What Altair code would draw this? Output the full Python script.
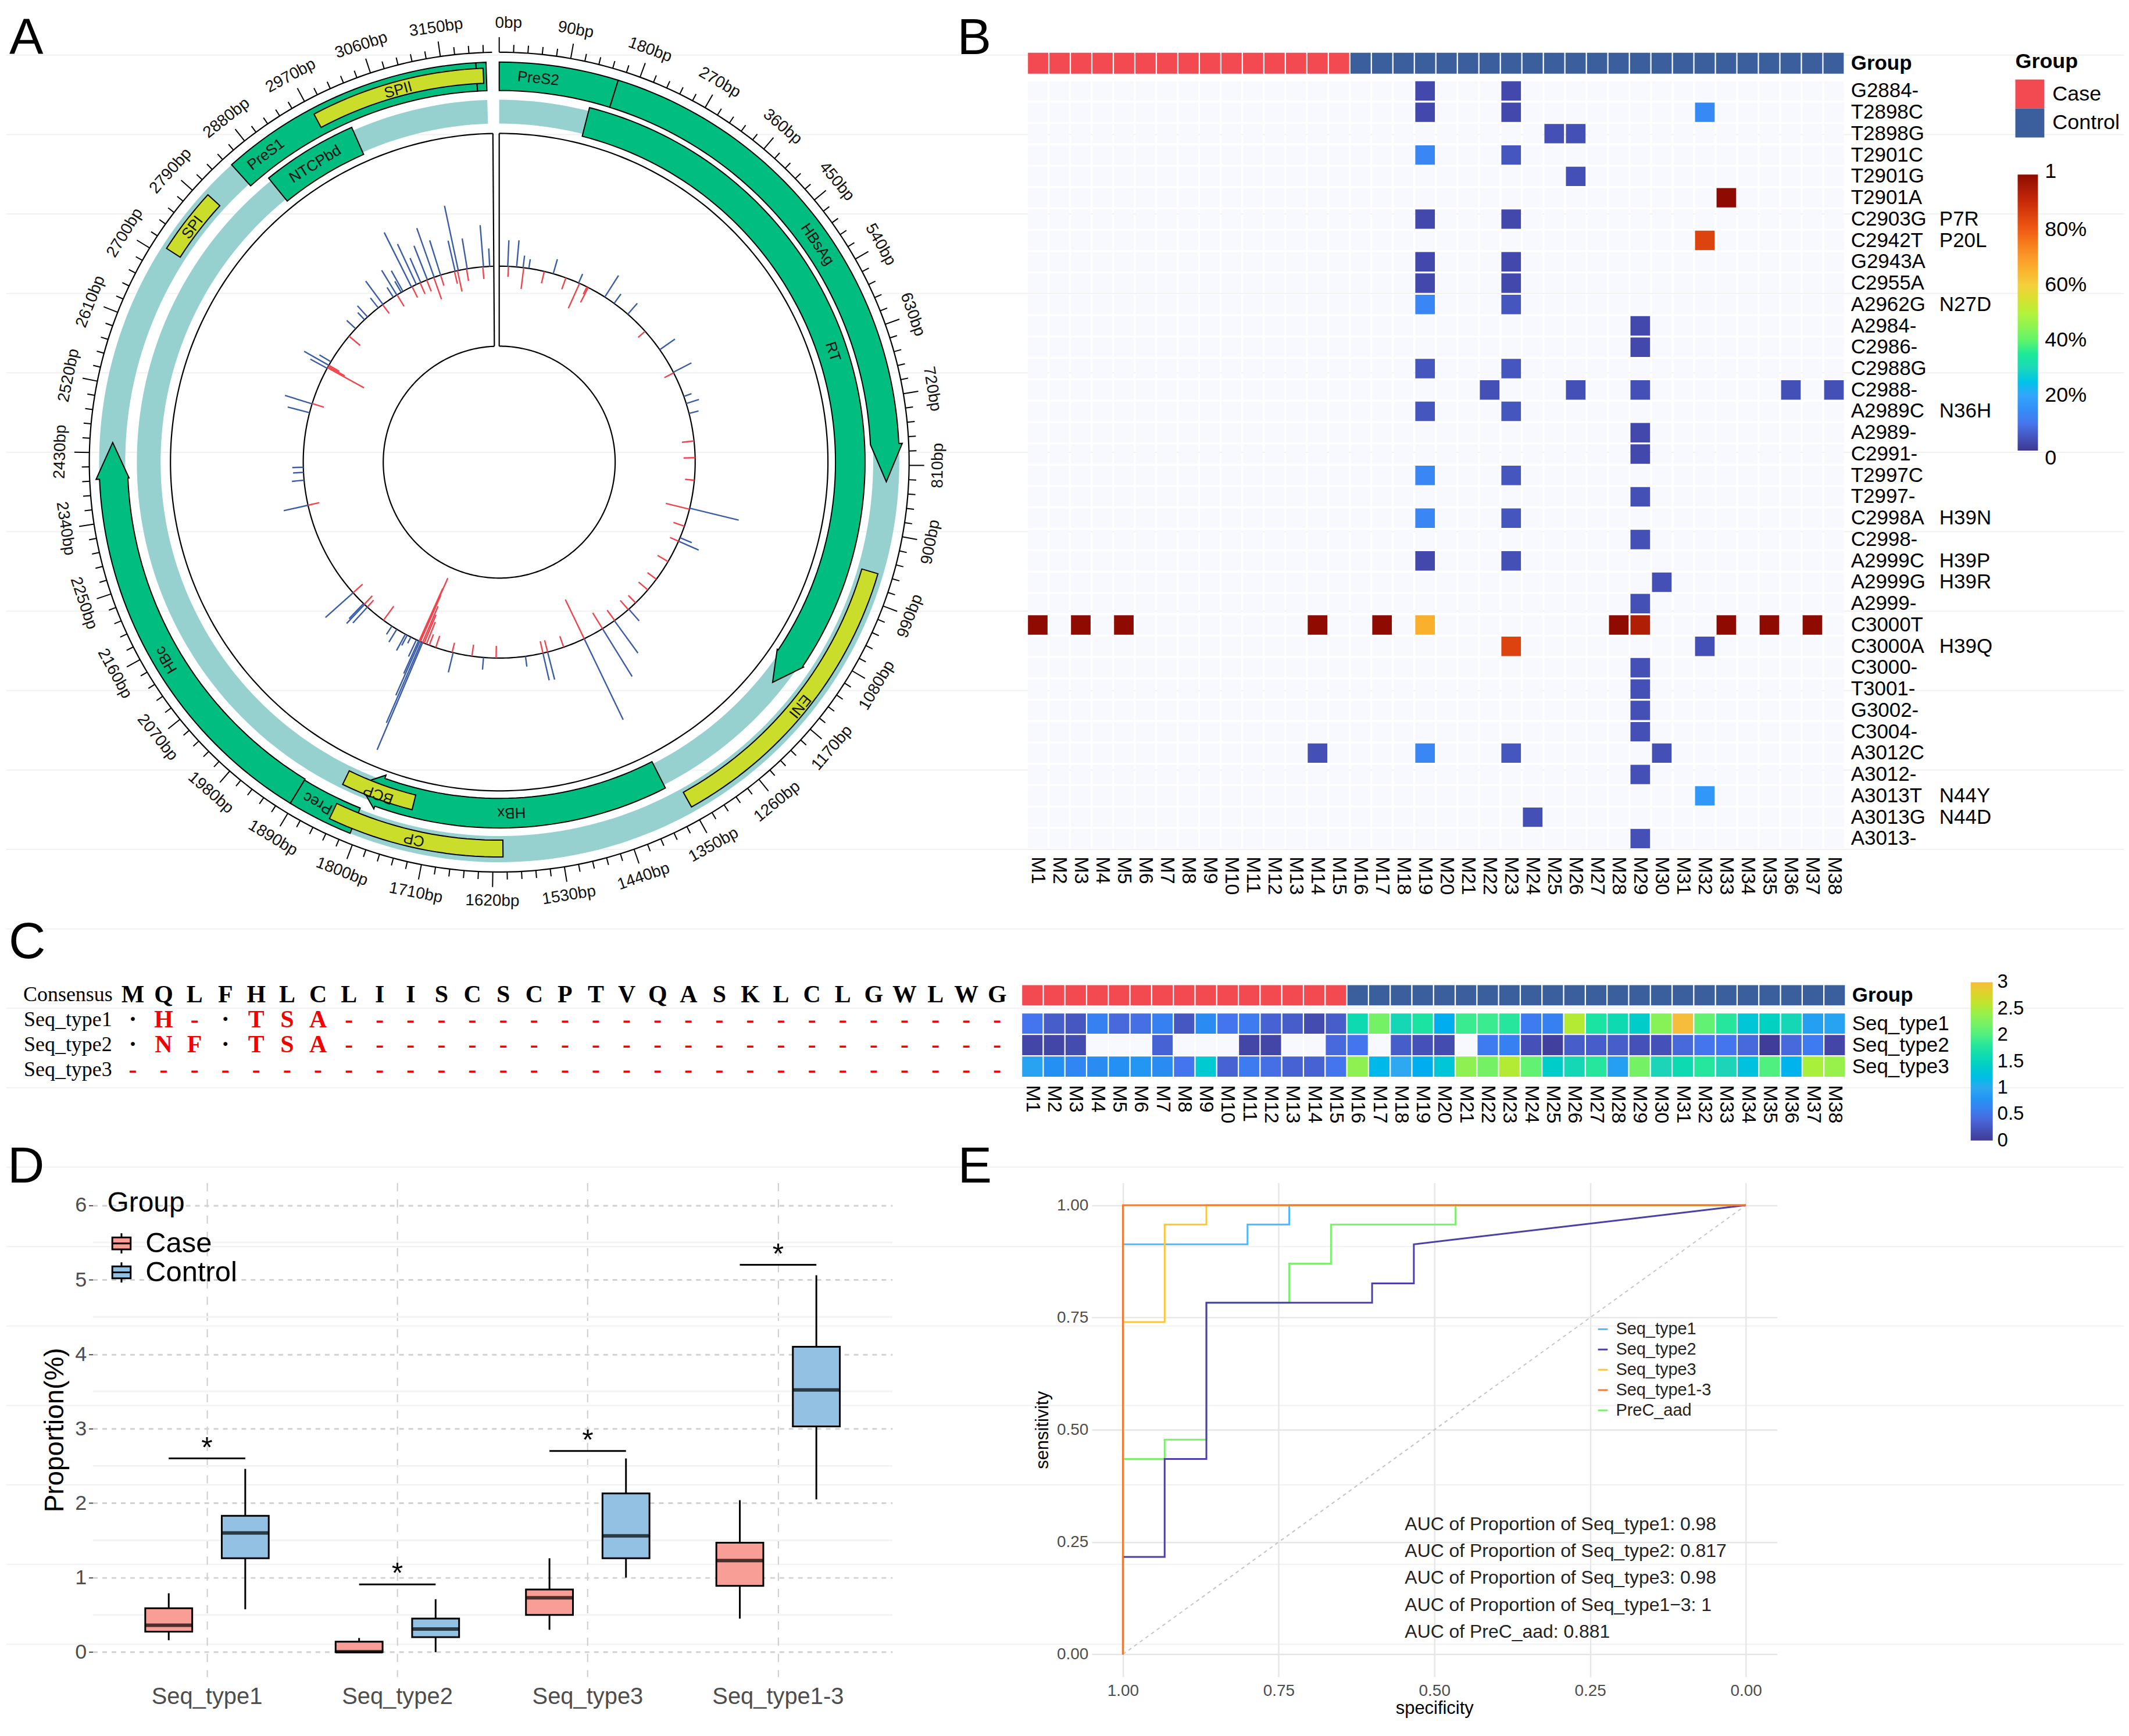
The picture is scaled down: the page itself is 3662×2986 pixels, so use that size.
import math
import altair as alt
import pandas as pd

alt.data_transformers.disable_max_rows()

SANS = "Liberation Sans"
SERIF = "Liberation Serif"
GENOME = 3215
GREEN, TEAL, YELLOW = "#02bd80", "#96d1d0", "#cbdd2b"
BLUE, RED = "#3a5ca6", "#f0444c"

# ---------- panel A values
tick_bp = list(range(0, 3207, 18))
label_bp = list(range(0, 3151, 90))
teal_rings = [(0, 3207, 645, 690), (0, 3207, 584, 625)]
# name, start, end, inner, outer, tip, head inner, head outer
green_genes = [
    ("a", 0, 155, 641, 690, None, None, None),
    ("b", 155, 782, 641, 690, 832, 641, 696),
    ("c", 2848, 3194, 641, 690, None, None, None),
    ("d", 3194, 3207, 641, 690, None, None, None),
    ("e", 1808, 1894, 643, 690, None, None, None),
    ("f", 1894, 2396, 641, 690, 2444, 639, 696),
    ("g", 128, 1110, 580, 631, 1154, 578, 633),
    ("h", 2874, 3011, 580, 631, None, None, None),
    ("i", 1370, 1790, 580, 631, 1822, 574, 636),
]
yellow_genes = [
    ("j", 2711, 2799, 654, 682),
    ("k", 2973, 3203, 654, 680),
    ("l", 953, 1351, 652, 681),
    ("m", 1607, 1840, 652, 681),
    ("n", 1738, 1844, 592, 618),
]
gene_names = ["PreS2", "HBsAg", "RT", "PreS1", "NTCPbd", "SPII", "SPI", "HBc", "Prec", "CP", "BCP", "HBx", "ENI"]
gene_name_bp = [52, 498, 642, 2891, 2940, 3088, 2753, 2143, 1863, 1726, 1791, 1594, 1156]
gene_name_r = [665, 665, 606, 666, 604, 665, 666, 668, 666, 667, 610, 605, 668]

blue_deg = [347.95, 347, 350.6, 355.4, 357.2, 2.5, 5.1, 7, 8.7, 16, 23.9, 32.6, 35.9, 41, 55, 62.7, 70.4, 72.6, 75.6,
            103.6, 112.7, 113.8, 138.6, 144, 148.2, 154.3, 165.7, 167.1, 172.3, 184.6, 193.6, 203, 203.4, 203.9, 204.3,
            205, 206.8, 208.6, 208, 211.5, 213.2, 222.3, 223.4, 223.8, 228.2, 257.3, 264.7, 267, 268.5, 284.6, 287.3,
            298.6, 299.6, 300.8, 312.9, 317.8, 316.6, 321.9, 323.6, 328.5, 327.3, 330.6, 330, 333.4, 335, 336.4, 338.5,
            340.6, 342.6]
blue_tip = [452, 392, 391, 410, 369, 383, 384, 359, 354, 364, 355, 382, 358, 363, 370, 373, 352, 361, 355,
            425, 360, 376, 365, 407, 435, 493, 387, 386, 356, 359, 373, 539, 490, 440, 400,
            370, 350, 370, 358, 364, 355, 375, 383, 374, 402, 381, 359, 356, 357, 377, 387,
            371, 387, 361, 359, 364, 355, 360, 388, 388, 358, 379, 360, 443, 415, 384, 401,
            428, 401]
red_deg = [355.2, 2.7, 7.2, 13.3, 19.9, 24.2, 27, 26.6, 48.1, 62.9, 83.8, 88.7, 95.3, 103.9, 109.1, 113.8, 120.5,
           126.7, 130.7, 135.9, 138.8, 143.9, 148.2, 154.3, 160.8, 167.1, 165.7, 180.9, 188, 193.9, 198.9, 200.9,
           203.9, 204.1, 201.8, 203.7, 203, 202.5, 216.2, 222.3, 223.5, 228.2, 257.3, 287.4, 298.8, 299.6, 299.2, 310,
           328.6, 323.5, 333.6, 336.2, 338.3, 340.5, 342.6, 347.7, 350.4, 346.8]
red_tip = [317, 320, 301, 317, 317, 291, 309, 324, 322, 320, 317, 318, 322, 296, 318, 322, 317,
           319, 317, 320, 317, 316, 306, 263, 318, 317, 317, 317, 318, 321, 317, 318,
           219, 239, 297, 251, 270, 285, 308, 322, 318, 316, 318, 317, 266, 317, 305, 313,
           315, 319, 317, 317, 317, 298, 319, 301, 317, 316]

# ---------- panel B values
samples = [f"M{i}" for i in range(1, 39)]
groups = ["Case"] * 15 + ["Control"] * 23
mutations = ["G2884-", "T2898C", "T2898G", "T2901C", "T2901G", "T2901A", "C2903G", "C2942T", "G2943A", "C2955A",
             "A2962G", "A2984-", "C2986-", "C2988G", "C2988-", "A2989C", "A2989-", "C2991-", "T2997C", "T2997-",
             "C2998A", "C2998-", "A2999C", "A2999G", "A2999-", "C3000T", "C3000A", "C3000-", "T3001-", "G3002-",
             "C3004-", "A3012C", "A3012-", "A3013T", "A3013G", "A3013-"]
mut_cells = {
    "G2884-": {19: .03, 23: .03}, "T2898C": {19: .03, 23: .03, 32: .14}, "T2898G": {25: .04, 26: .04},
    "T2901C": {19: .13, 23: .05}, "T2901G": {26: .04}, "T2901A": {33: 1.0}, "C2903G": {19: .03, 23: .03},
    "C2942T": {32: .85}, "G2943A": {19: .03, 23: .03}, "C2955A": {19: .03, 23: .03},
    "A2962G": {19: .13, 23: .05}, "A2984-": {29: .03}, "C2986-": {29: .03}, "C2988G": {19: .05, 23: .05},
    "C2988-": {22: .04, 26: .04, 29: .04, 36: .04, 38: .04}, "A2989C": {19: .05, 23: .05}, "A2989-": {29: .03},
    "C2991-": {29: .03}, "T2997C": {19: .13, 23: .05}, "T2997-": {29: .04}, "C2998A": {19: .13, 23: .05},
    "C2998-": {29: .04}, "A2999C": {19: .03, 23: .04}, "A2999G": {30: .04}, "A2999-": {29: .04},
    "C3000T": {1: 1, 3: 1, 5: 1, 14: 1, 17: 1, 19: .66, 28: 1, 29: .94, 33: 1, 35: 1, 37: 1},
    "C3000A": {23: .85, 32: .04}, "C3000-": {29: .04}, "T3001-": {29: .04}, "G3002-": {29: .04}, "C3004-": {29: .04},
    "A3012C": {14: .04, 19: .13, 23: .05, 30: .04}, "A3012-": {29: .04}, "A3013T": {32: .17}, "A3013G": {24: .04},
    "A3013-": {29: .04},
}
aa_change = {"C2903G": "P7R", "C2942T": "P20L", "A2962G": "N27D", "A2989C": "N36H", "C2998A": "H39N",
             "A2999C": "H39P", "A2999G": "H39R", "C3000A": "H39Q", "A3013T": "N44Y", "A3013G": "N44D"}
pct_domain = [0, .1, .2, .3, .4, .5, .6, .7, .8, .9, 1]
pct_range = ["#3d3791", "#4577ee", "#33a5fc", "#1bd9b8", "#5ff56a", "#b5f23a", "#f4cf3c", "#fb9a2a", "#f05a14",
             "#c92a08", "#8f0b02"]

# ---------- panel C values
consensus = list("MQLFHLCLIISCSCPTVQASKLCLGWLWG")
seq1_row = list("·H-·TSA") + ["-"] * 22
seq2_row = list("·NF·TSA") + ["-"] * 22
seq3_row = ["-"] * 29
seq_names = ["Seq_type1", "Seq_type2", "Seq_type3"]
seq1_vals = [.5, .3, .25, .6, .4, .45, .6, .25, .7, .5, .55, .35, .3, .15, .3, 1.6, 2.2, 1.55, 1.75, 1.05, 1.9, 1.9,
             1.8, .55, .6, 2.55, 1.75, 1.6, 1.4, 2.3, 3, 2.1, 1.8, 1.3, 1.45, 1.55, .9, .95]
seq2_vals = [.1, .1, .15, None, None, None, .35, None, None, None, .1, .1, None, None, .4, .5, None, .3, .2, .15, None,
             .55, .6, .2, .05, .3, .3, .3, .2, .2, .4, .5, .5, .4, .02, .4, .55, .1]
seq3_vals = [.95, .75, .65, .7, .75, .8, .7, .5, 1.35, .35, .55, .45, .35, .35, .5, 2.35, 1.15, 1.0, 1.05, 1.3, 2.35,
             2.2, 2.55, 2.1, 1.4, 1.55, 1.8, .9, 2.2, 1.5, 1.6, 1.8, 1.5, 1.25, 2.0, 1.1, 2.5, 2.4]
seq_domain = [0, .5, 1, 1.5, 2, 2.5, 3]
seq_range = ["#3f3b95", "#4575ee", "#2ea8f0", "#1dd4b8", "#50f080", "#a8f03a", "#f6bd3c"]

# ---------- panel D values
box_cats = ["Seq_type1", "Seq_type2", "Seq_type3", "Seq_type1-3"]
box_case = [(.16, .275, .36, .59, .79), (0, 0, .005, .14, .19), (.3, .5, .73, .84, 1.26), (.45, .89, 1.23, 1.47, 2.04)]
box_ctrl = [(.575, 1.26, 1.6, 1.83, 2.46), (0, .2, .31, .45, .71), (1.0, 1.26, 1.56, 2.13, 2.6), (2.05, 3.03, 3.52, 4.1, 5.06)]
sig_y = [2.6, .91, 2.7, 5.2]

# ---------- panel E values
roc = {
    "Seq_type1": ([1, 1, .8, .8, .733, .733, 0], [0, .913, .913, .957, .957, 1, 1]),
    "Seq_type2": ([1, 1, .933, .933, .866, .866, .6, .6, .533, .533, 0],
                  [0, .217, .217, .435, .435, .783, .783, .826, .826, .913, 1]),
    "Seq_type3": ([1, 1, .933, .933, .866, .866, 0], [0, .74, .74, .957, .957, 1, 1]),
    "PreC_aad": ([1, 1, .933, .933, .866, .866, .733, .733, .666, .666, .466, .466, 0],
                 [0, .435, .435, .478, .478, .783, .783, .87, .87, .957, .957, 1, 1]),
    "Seq_type1-3": ([1, 1, 0], [0, 1, 1]),
}
roc_names = ["Seq_type1", "Seq_type2", "Seq_type3", "Seq_type1-3", "PreC_aad"]
roc_colors = ["#4db8ff", "#4b3fa8", "#ffc533", "#f47a30", "#7bf06b"]
auc_lines = ["AUC of Proportion of Seq_type1: 0.98", "AUC of Proportion of Seq_type2: 0.817",
             "AUC of Proportion of Seq_type3: 0.98", "AUC of Proportion of Seq_type1−3: 1", "AUC of PreC_aad: 0.881"]
auc_sens = [.29, .23, .17, .11, .05]

# ---------- page annotations
letters = ["A", "B", "C", "D", "E"]
letter_x = [13, 1648, 12, 10, 1649]
letter_y = [87, 87, 1646, 2034, 2034]
faint_y = [89, 226, 363, 500, 637, 774, 911, 1048, 1185, 1322, 1459, 1596, 1733, 1870, 2007, 2144, 2281, 2418, 2555,
           2692, 2830]

CX, CY = 858, 791
A_W, A_H = 1762, 1685
sx = alt.Scale(domain=[8 - CX, 8 - CX + A_W], nice=False, zero=False)
sy = alt.Scale(domain=[CY - 8 - A_H, CY - 8], nice=False, zero=False)
X = alt.X("x:Q", axis=None, scale=sx)
Y = alt.Y("y:Q", axis=None, scale=sy)


def deg(bp):
    return bp * 359 / GENOME


def polar(theta, r):
    t = math.radians(theta)
    return r * math.sin(t), r * math.cos(t)


def band(name, b0, b1, r0, r1, tip=None, hr0=None, hr1=None):
    n = max(2, int(abs(b1 - b0) / 12))
    b = [b0 + (b1 - b0) * i / n for i in range(n + 1)]
    pts = [(v, r1) for v in b]
    if tip is not None:
        pts += [(b1, hr1), (tip, (hr0 + hr1) / 2), (b1, hr0)]
    pts += [(v, r0) for v in reversed(b)]
    return [dict(id=name, o=i, x=polar(deg(p[0]), p[1])[0], y=polar(deg(p[0]), p[1])[1]) for i, p in enumerate(pts)]


def arc(name, t0, t1, r):
    n = 360
    return [dict(id=name, o=i, x=polar(t0 + (t1 - t0) * i / n, r)[0], y=polar(t0 + (t1 - t0) * i / n, r)[1])
            for i in range(n + 1)]


def poly_layer(rows, fill, stroke_width):
    return alt.Chart(pd.DataFrame(rows)).mark_line(interpolate="linear-closed", fill=fill, stroke="black",
                                                   strokeWidth=stroke_width, strokeOpacity=1 if stroke_width else 0
                                                   ).encode(X, Y, detail="id:N", order="o:Q")


def rule_layer(rows, color, width):
    return alt.Chart(pd.DataFrame(rows)).mark_rule(color=color, strokeWidth=width).encode(
        X, Y, x2="x2:Q", y2="y2:Q")


def seg(t0, r0, t1, r1):
    a, b = polar(t0, r0), polar(t1, r1)
    return dict(x=a[0], y=a[1], x2=b[0], y2=b[1])


def spacer(w, h):
    return alt.Chart(pd.DataFrame({"a": [0]})).mark_point(opacity=0, size=1).encode(
        x=alt.value(w / 2), y=alt.value(h / 2)).properties(width=w, height=h)


def bar_end_label(text, px, py, size):
    # the two end labels of a colour bar, centred on the bar's ends as in the reference
    return alt.Chart(pd.DataFrame({"a": [0]})).mark_text(text=text, font=SANS, fontSize=size, color="black",
                                                         align="left", baseline="middle").encode(
        x=alt.value(px), y=alt.value(py))


# ---------- panel A
faint = alt.Chart(pd.DataFrame({"y": [CY - v for v in faint_y]})).mark_rule(color="#f1f1f1", strokeWidth=2).encode(
    x=alt.value(0), x2=alt.value(3652), y=Y)

teal_rows = sum([band(f"t{i}", *r) for i, r in enumerate(teal_rings)], [])
green_rows = sum([band(*g) for g in green_genes], [])
yellow_rows = sum([band(*g) for g in yellow_genes], [])

circle_rows = arc("c1", 0, 357.6, 200) + arc("c2", 0, 358.2, 338) + arc("c3", 0, 358.9, 567) + arc("c4", 0, 359, 707)
circles = alt.Chart(pd.DataFrame(circle_rows)).mark_line(color="black", strokeWidth=2.2).encode(
    X, Y, detail="id:N", order="o:Q")
radial = rule_layer([seg(0, 200, 0, 567), seg(357.6, 200, 358.9, 567)], "black", 2.2)
ticks = rule_layer([seg(deg(b), 707, deg(b), 733 if b % 90 == 0 else 720) for b in tick_bp], "black", 2)
blue_sp = rule_layer([seg(d, 338, d, r) for d, r in zip(blue_deg, blue_tip)], BLUE, 2.4)
red_sp = rule_layer([seg(d, 338, d, r) for d, r in zip(red_deg, red_tip)], RED, 2.4)


def flip_angle(t):
    return (t if t <= 90 else t - 180 if t < 270 else t - 360) % 360


# the "0bp" label sits just to the right of its tick in the reference
label_place = {b: (11 if b == 0 else b) for b in label_bp}
axis_text = pd.DataFrame([dict(t=f"{b}bp", x=polar(deg(label_place[b]), 757)[0], y=polar(deg(label_place[b]), 757)[1],
                               a=flip_angle(deg(b))) for b in label_bp])
axis_labels = alt.Chart(axis_text).mark_text(font=SANS, fontSize=28, color="#111111", baseline="middle").encode(
    X, Y, text="t:N", angle=alt.Angle("a:Q", scale=None))
gene_text = pd.DataFrame([dict(t=n, x=polar(deg(b), r)[0], y=polar(deg(b), r)[1], a=deg(b))
                          for n, b, r in zip(gene_names, gene_name_bp, gene_name_r)])
gene_labels = alt.Chart(gene_text).mark_text(font=SANS, fontSize=26, color="#111111", baseline="middle").encode(
    X, Y, text="t:N", angle=alt.Angle("a:Q", scale=None))
letter_df = pd.DataFrame({"t": letters, "x": [v - CX for v in letter_x], "y": [CY - v for v in letter_y]})
letter_marks = alt.Chart(letter_df).mark_text(font=SANS, fontSize=88, color="black", align="left",
                                              baseline="alphabetic").encode(X, Y, text="t:N")

panel_a = alt.layer(faint, poly_layer(teal_rows, TEAL, 0), poly_layer(green_rows, GREEN, 2),
                    poly_layer(yellow_rows, YELLOW, 2), circles, radial, ticks, red_sp, blue_sp, axis_labels,
                    gene_labels, letter_marks).properties(width=A_W, height=A_H)


# ---------- panel B
def strip(width, height, legend):
    df = pd.DataFrame({"s": samples, "g": groups, "r": ["Group"] * 38})
    return alt.Chart(df).mark_rect().encode(
        x=alt.X("s:N", sort=samples, axis=None, scale=alt.Scale(paddingInner=.06, paddingOuter=0)),
        y=alt.Y("r:N", title=None, scale=alt.Scale(paddingInner=0, paddingOuter=0),
                axis=alt.Axis(orient="right", ticks=False, domain=False, labelPadding=12, labelFont=SANS,
                              labelFontSize=35, labelFontWeight="bold", labelColor="black", labelLimit=0)),
        color=alt.Color("g:N", scale=alt.Scale(domain=["Case", "Control"], range=["#f24a50", "#3b5e9c"]), legend=legend),
    ).properties(width=width, height=height)


group_legend = alt.Legend(orient="none", legendX=1703, legendY=-2, title="Group", titleFont=SANS, titleFontSize=36,
                          titleFontWeight="bold", titleColor="black", titlePadding=12, symbolType="square",
                          symbolSize=2500, symbolStrokeWidth=0, symbolOpacity=1, labelFont=SANS, labelFontSize=36,
                          labelColor="black", labelOffset=14, rowPadding=0)
B_W, B_H = 1407, 1323
b_bg = pd.DataFrame([dict(s=s, m=m) for s in samples for m in mutations])
b_fg = pd.DataFrame([dict(s=f"M{i}", m=m, v=v) for m in mutations for i, v in mut_cells[m].items()])
b_x = alt.X("s:N", sort=samples, title=None, scale=alt.Scale(domain=samples, paddingInner=.09, paddingOuter=0),
            axis=alt.Axis(labelAngle=90, ticks=False, domain=False, labelPadding=14, labelFont=SANS, labelFontSize=34,
                          labelColor="black", labelOverlap=False, labelAlign="left", labelBaseline="middle"))
b_y = alt.Y("m:N", sort=mutations, title=None, scale=alt.Scale(domain=mutations, paddingInner=.09, paddingOuter=0),
            axis=alt.Axis(orient="right", ticks=False, domain=False, labelPadding=12, labelFont=SANS, labelFontSize=35,
                          labelColor="black", labelOverlap=False, labelLimit=0))
b_bg_l = alt.Chart(b_bg).mark_rect(color="#f8f9fe").encode(b_x, b_y)
b_fg_l = alt.Chart(b_fg).mark_rect().encode(
    b_x, b_y,
    color=alt.Color("v:Q", scale=alt.Scale(domain=pct_domain, range=pct_range),
                    legend=alt.Legend(orient="none", legendX=1707, legendY=161, title=None, gradientLength=476,
                                      gradientThickness=35, gradientStrokeWidth=0, values=[.2, .4, .6, .8],
                                      labelFont=SANS, labelFontSize=36, labelColor="black", labelOverlap=False,
                                      labelOffset=12, labelExpr="format(datum.value,'.0%')")))
b_note = alt.Chart(pd.DataFrame({"m": list(aa_change), "t": list(aa_change.values())})).mark_text(
    font=SANS, fontSize=35, color="black", align="left", baseline="middle").encode(
    x=alt.value(1572), y=alt.Y("m:N", sort=mutations, title=None, scale=alt.Scale(domain=mutations, paddingInner=.09,
                                                                                    paddingOuter=0)), text="t:N")
b_heat = alt.layer(b_bg_l, b_fg_l, b_note, bar_end_label("1", 1754, 156, 36), bar_end_label("0", 1754, 650, 36)
                   ).properties(width=B_W, height=B_H)
panel_b = alt.vconcat(spacer(B_W, 77), strip(B_W, 36, group_legend), spacer(B_W, 13), b_heat, spacing=0,
                      bounds="flush").resolve_scale(color="independent", x="independent", y="independent")
row1 = alt.hconcat(panel_a, panel_b, spacing=0, bounds="flush").resolve_scale(color="independent")

# ---------- panel C
c_rows = ["Consensus"] + seq_names
c_text = []
for r, vals in zip(c_rows, [consensus, seq1_row, seq2_row, seq3_row]):
    for i, v in enumerate(vals):
        color = "black" if r == "Consensus" or v == "·" else "#f30000"
        c_text.append(dict(i=i, r=r, t=v, c=color))
c_x = alt.X("i:Q", axis=None, scale=alt.Scale(domain=[0, 28], range=[218, 1709], nice=False, zero=False))
c_y = alt.Y("r:N", axis=None, sort=c_rows, scale=alt.Scale(domain=c_rows, type="point", padding=0, range=[30, 159]))
c_letters = alt.Chart(pd.DataFrame(c_text)).mark_text(font=SERIF, fontSize=42, fontWeight="bold",
                                                      baseline="middle").encode(
    c_x, c_y, text="t:N", color=alt.Color("c:N", scale=None))
c_names = alt.Chart(pd.DataFrame({"i": [-2.1] * 4, "r": c_rows})).mark_text(font=SERIF, fontSize=36, color="black",
                                                                           baseline="middle").encode(c_x, c_y, text="r:N")
c_left = alt.layer(c_letters, c_names).properties(width=1752, height=171)

C_W = 1419
c_bg = pd.DataFrame([dict(s=s, m=m) for s in samples for m in seq_names])
c_fg = pd.DataFrame([dict(s=s, m=m, v=v) for m, vals in zip(seq_names, [seq1_vals, seq2_vals, seq3_vals])
                     for s, v in zip(samples, vals) if v is not None])
cc_x = alt.X("s:N", sort=samples, title=None, scale=alt.Scale(domain=samples, paddingInner=.06, paddingOuter=0),
             axis=alt.Axis(labelAngle=90, ticks=False, domain=False, labelPadding=14, labelFont=SANS, labelFontSize=34,
                           labelColor="black", labelOverlap=False, labelAlign="left", labelBaseline="middle"))
cc_y = alt.Y("m:N", sort=seq_names, title=None, scale=alt.Scale(domain=seq_names, paddingInner=.06, paddingOuter=0),
             axis=alt.Axis(orient="right", ticks=False, domain=False, labelPadding=12, labelFont=SANS, labelFontSize=35,
                           labelColor="black", labelOverlap=False, labelLimit=0))
c_heat = alt.layer(
    alt.Chart(c_bg).mark_rect(color="#f8f9fe").encode(cc_x, cc_y),
    alt.Chart(c_fg).mark_rect().encode(
        cc_x, cc_y,
        color=alt.Color("v:Q", scale=alt.Scale(domain=seq_domain, range=seq_range),
                        legend=alt.Legend(orient="none", legendX=1636, legendY=-54, title=None, gradientLength=273,
                                          gradientThickness=38, gradientStrokeWidth=0, values=[.5, 1, 1.5, 2, 2.5],
                                          labelExpr="''+datum.value", labelFont=SANS, labelFontSize=33,
                                          labelColor="black", labelOverlap=False, labelOffset=8))),
    bar_end_label("3", 1682, -54, 33), bar_end_label("0", 1682, 219, 33),
).properties(width=C_W, height=109)
c_right = alt.vconcat(spacer(C_W, 13), strip(C_W, 35, None), spacer(C_W, 14), c_heat, spacing=0,
                      bounds="flush").resolve_scale(color="independent", x="independent", y="independent")
row2 = alt.hconcat(c_left, c_right, spacing=0, bounds="flush").resolve_scale(color="independent")

# ---------- panel D
box_rows = []
for cat, c, k in zip(box_cats, box_case, box_ctrl):
    for g, b in (("Case", c), ("Control", k)):
        box_rows.append(dict(cat=cat, g=g, lo=b[0], q1=b[1], med=b[2], q3=b[3], hi=b[4]))
box_df = pd.DataFrame(box_rows)
d_y_scale = alt.Scale(domain=[-.331, 6.3], nice=False, zero=False)
d_axis = alt.Axis(values=[0, 1, 2, 3, 4, 5, 6], grid=True, gridDash=[8, 8], gridColor="#d2d2d2", gridWidth=3,
                  domain=False, tickColor="#4d4d4d", tickSize=7, tickWidth=2, labelPadding=4, labelFont=SANS,
                  labelFontSize=36, labelColor="#4d4d4d", titleFont=SANS, titleFontSize=46,
                  titleFontWeight="normal", titleColor="black", titlePadding=10)
D_TITLE = "Proportion(%)"
d_x = alt.X("cat:N", sort=box_cats, title=None, scale=alt.Scale(domain=box_cats, paddingInner=0, paddingOuter=.1),
            axis=alt.Axis(grid=True, gridDash=[14, 14], gridColor="#cccccc", gridWidth=2, ticks=False, domain=False,
                          labelAngle=0, labelPadding=14, labelFont=SANS, labelFontSize=40, labelColor="#4d4d4d",
                          labelLimit=0))
d_off = alt.XOffset("g:N", sort=["Case", "Control"], scale=alt.Scale(domain=["Case", "Control"], paddingInner=.386,
                                                                      paddingOuter=.437))
d_y = alt.Y("lo:Q", scale=d_y_scale, title=D_TITLE, axis=d_axis)
d_minor = alt.Chart(pd.DataFrame({"v": [.5, 1.5, 2.5, 3.5, 4.5, 5.5]})).mark_rule(color="#f3f3f3", strokeWidth=3).encode(
    y=alt.Y("v:Q", scale=d_y_scale, title=D_TITLE, axis=d_axis))
d_whisk = alt.Chart(box_df).mark_rule(color="black", strokeWidth=3).encode(d_x, d_off, d_y, y2="hi:Q")
d_box = alt.Chart(box_df).mark_bar(stroke="black", strokeWidth=3).encode(
    d_x, d_off, alt.Y("q1:Q", scale=d_y_scale, title=D_TITLE, axis=d_axis), y2="q3:Q",
    color=alt.Color("g:N", scale=alt.Scale(domain=["Case", "Control"], range=["#f99d97", "#93c1e3"]),
                    legend=alt.Legend(orient="none", legendX=25, legendY=12, title="Group", titleFont=SANS,
                                      titleFontSize=48, titleFontWeight="normal", titleColor="black", titlePadding=20,
                                      labelFont=SANS, labelFontSize=49, labelColor="black", labelOffset=17,
                                      symbolType="M-1,-0.65H1V0.65H-1Z M-1,0H1 M0,-0.65V-1.1 M0,0.65V1.1",
                                      symbolSize=1000, symbolStrokeColor="black", symbolStrokeWidth=3, symbolOpacity=1,
                                      rowPadding=0)))
d_med = alt.Chart(box_df).mark_tick(color="black", thickness=6, size=81, orient="horizontal").encode(
    d_x, d_off, alt.Y("med:Q", scale=d_y_scale, title=D_TITLE, axis=d_axis))
sig_rows = []
for cat, v in zip(box_cats, sig_y):
    sig_rows += [dict(cat=cat, g="Case", v=v), dict(cat=cat, g="Control", v=v)]
d_sig = alt.Chart(pd.DataFrame(sig_rows)).mark_line(color="black", strokeWidth=3).encode(
    d_x, d_off, alt.Y("v:Q", scale=d_y_scale, title=D_TITLE, axis=d_axis), detail="cat:N")
d_star = alt.Chart(pd.DataFrame({"cat": box_cats, "v": [v + .13 for v in sig_y], "t": ["*"] * 4})).mark_text(
    font=SANS, fontSize=50, color="black", baseline="middle").encode(
    d_x, alt.Y("v:Q", scale=d_y_scale, title=D_TITLE, axis=d_axis), text="t:N")
panel_d = alt.layer(d_minor, d_whisk, d_box, d_med, d_sig, d_star).properties(width=1379, height=852)

# ---------- panel E
roc_rows = []
for name in ["PreC_aad", "Seq_type1", "Seq_type3", "Seq_type2", "Seq_type1-3"]:
    for i, (a, b) in enumerate(zip(*roc[name])):
        roc_rows.append(dict(n=name, i=i, sp=a, se=b))
e_x_s = alt.Scale(domain=[1.05, -.05], nice=False, zero=False)
e_y_s = alt.Scale(domain=[-.05, 1.05], nice=False, zero=False)
e_x = alt.X("sp:Q", scale=e_x_s, title="specificity",
            axis=alt.Axis(values=[1, .75, .5, .25, 0], format=".2f", grid=True, gridColor="#e6e6e6", gridWidth=2.4,
                          ticks=False, domain=False, labelPadding=10, labelFont=SANS, labelFontSize=28,
                          labelColor="#4d4d4d", titleFont=SANS, titleFontSize=31, titleFontWeight="normal",
                          titleColor="black", titlePadding=2))
e_y = alt.Y("se:Q", scale=e_y_s, title="sensitivity",
            axis=alt.Axis(values=[0, .25, .5, .75, 1], format=".2f", grid=True, gridColor="#e6e6e6", gridWidth=2.4,
                          ticks=False, domain=False, labelPadding=6, labelFont=SANS, labelFontSize=28,
                          labelColor="#4d4d4d", titleFont=SANS, titleFontSize=31, titleFontWeight="normal",
                          titleColor="black", titlePadding=8))
e_diag = alt.Chart(pd.DataFrame({"sp": [1, 0], "se": [0, 1]})).mark_line(color="#c4c4c4", strokeWidth=2,
                                                                        strokeDash=[6, 6]).encode(e_x, e_y)
e_lines = alt.Chart(pd.DataFrame(roc_rows)).mark_line(strokeWidth=3).encode(
    e_x, e_y, order="i:Q",
    color=alt.Color("n:N", sort=roc_names, scale=alt.Scale(domain=roc_names, range=roc_colors),
                    legend=alt.Legend(orient="none", legendX=867, legendY=238, title=None, symbolType="stroke",
                                      symbolSize=280, symbolStrokeWidth=3, labelFont=SANS, labelFontSize=29,
                                      labelColor="#222222", rowPadding=5, labelOffset=8, labelLimit=400)))
e_auc = alt.Chart(pd.DataFrame({"sp": [.5475] * 5, "se": auc_sens, "t": auc_lines})).mark_text(
    font=SANS, fontSize=32, color="#222222", align="left", baseline="middle").encode(e_x, e_y, text="t:N")
panel_e = alt.layer(e_diag, e_lines, e_auc).properties(width=1182, height=852)

row3 = alt.hconcat(spacer(149, 852), panel_d, spacer(344, 852), panel_e, spacing=0, bounds="flush").resolve_scale(
    color="independent")

# nested concats count as zero height under flush bounds, so the spacers set each row's place
chart = alt.vconcat(row1, spacer(10, 1672), row2, spacer(10, 354), row3, spacing=0, bounds="flush").resolve_scale(
    color="independent").properties(padding={"left": 2, "top": 2, "right": 0, "bottom": 0},
                                    background="white").configure_view(strokeWidth=0)

chart.save("out.html", embed_options={"renderer": "svg", "actions": False})
